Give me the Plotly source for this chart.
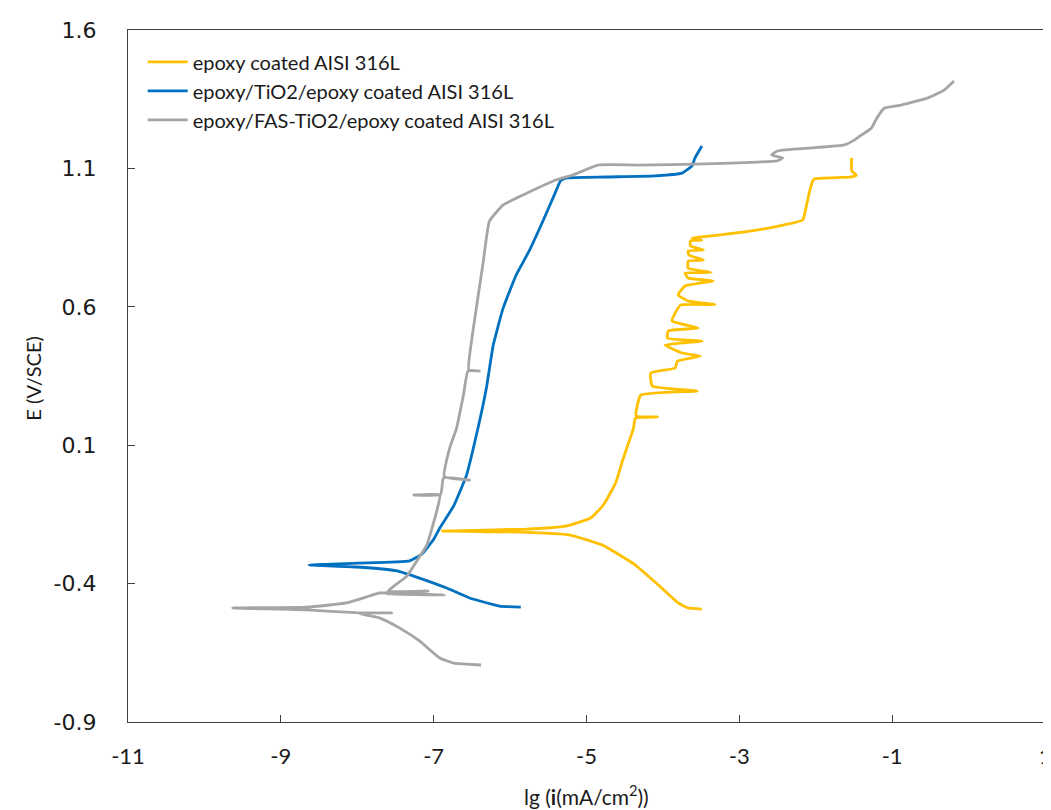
import plotly.graph_objects as go

# ---- data (lg i in mA/cm2, E in V/SCE), each path: cathodic end -> Ecorr tip -> anodic end
series_names = ["epoxy coated AISI 316L",
                "epoxy/TiO2/epoxy coated AISI 316L",
                "epoxy/FAS-TiO2/epoxy coated AISI 316L"]
series_colors = ["#FFC000", "#0070C0", "#A5A5A5"]

epoxy_lgi = [-3.49, -3.67, -3.80, -4.06, -4.36, -4.79, -5.23, -5.88, -6.885,
             -5.79, -5.27, -4.945, -4.78, -4.62, -4.53, -4.45, -4.385, -4.36, -4.07, -4.35,
             -4.29, -3.55, -4.14, -4.16, -3.84, -3.81, -3.51, -3.75, -3.97, -3.49, -3.94,
             -3.93, -3.54, -3.88, -3.77, -3.32, -3.67, -3.80, -3.71, -3.34, -3.67, -3.71,
             -3.37, -3.67, -3.67, -3.47, -3.66, -3.67, -3.47, -3.64, -3.64, -3.49, -3.62,
             -3.28, -2.84, -2.41, -2.17, -2.12, -2.08, -2.04, -2.02, -1.53, -1.47, -1.53, -1.53]
epoxy_E = [-0.492, -0.488, -0.470, -0.405, -0.333, -0.261, -0.224, -0.214, -0.210,
           -0.203, -0.192, -0.163, -0.116, -0.037, 0.043, 0.108, 0.162, 0.198, 0.202, 0.206,
           0.281, 0.296, 0.314, 0.361, 0.379, 0.404, 0.422, 0.433, 0.462, 0.476, 0.487,
           0.513, 0.523, 0.549, 0.606, 0.608, 0.621, 0.643, 0.675, 0.693, 0.704, 0.722,
           0.724, 0.740, 0.765, 0.769, 0.787, 0.802, 0.805, 0.820, 0.838, 0.841, 0.849,
           0.859, 0.874, 0.896, 0.914, 0.968, 1.018, 1.054, 1.062, 1.069, 1.076, 1.091, 1.138]

tio2_lgi = [-5.86, -6.14, -6.53, -6.83, -7.185, -7.48, -8.005, -8.63,
            -8.005, -7.315, -7.15, -7.00, -6.92, -6.74, -6.57, -6.42, -6.31, -6.22, -6.09,
            -5.92, -5.75, -5.57, -5.40, -5.34, -5.27, -4.75, -4.10, -3.75, -3.62, -3.58, -3.49]
tio2_E = [-0.485, -0.481, -0.452, -0.416, -0.380, -0.354, -0.340, -0.333,
          -0.326, -0.318, -0.292, -0.240, -0.199, -0.120, -0.008, 0.162, 0.307, 0.462, 0.596,
          0.715, 0.802, 0.910, 1.018, 1.055, 1.065, 1.069, 1.073, 1.083, 1.109, 1.138, 1.181]

fas_lgi = [-6.38, -6.74, -6.92, -7.185, -7.45, -7.71, -8.00, -7.55, -8.02, -8.66, -9.63,
           -8.66, -8.14, -7.875, -7.71, -6.86, -7.62, -7.07, -7.60, -7.52, -7.35, -7.22,
           -7.09, -6.96, -6.92, -7.26, -6.91, -6.87, -6.53, -6.86, -6.79, -6.70, -6.61,
           -6.55, -6.40, -6.54, -6.48, -6.35, -6.31, -6.27, -6.09, -5.83, -5.40, -5.18,
           -4.85, -4.32, -3.45, -2.76, -2.51, -2.43, -2.58, -2.50, -2.05, -1.625, -1.49,
           -1.40, -1.27, -1.20, -1.10, -0.88, -0.54, -0.32, -0.19]
fas_E = [-0.694, -0.687, -0.669, -0.607, -0.560, -0.524, -0.507, -0.506, -0.505, -0.495, -0.488,
         -0.485, -0.470, -0.448, -0.434, -0.441, -0.437, -0.427, -0.428, -0.409, -0.373, -0.318,
         -0.261, -0.138, -0.080, -0.080, -0.078, -0.018, -0.026, -0.014, 0.090, 0.162, 0.281,
         0.368, 0.368, 0.372, 0.523, 0.765, 0.849, 0.910, 0.968, 1.004, 1.058, 1.076,
         1.112, 1.112, 1.116, 1.123, 1.127, 1.138, 1.148, 1.163, 1.174, 1.185, 1.203,
         1.221, 1.246, 1.282, 1.318, 1.329, 1.354, 1.383, 1.416]

x_ticks = [-11, -9, -7, -5, -3, -1, 1]
y_ticks = [-0.9, -0.4, 0.1, 0.6, 1.1, 1.6]
x_title = "lg (<b>i</b>(mA/cm<sup>2</sup>))"
y_title = "E (V/SCE)"

fig = go.Figure()
for name, color, xs, ys in zip(series_names, series_colors,
                               [epoxy_lgi, tio2_lgi, fas_lgi],
                               [epoxy_E, tio2_E, fas_E]):
    fig.add_trace(go.Scatter(x=xs, y=ys, mode="lines", name=name,
                             line=dict(color=color, width=2.8, shape="spline", smoothing=0.4)))

axis_line = "#404040"
text_col = "#1a1a1a"
fig.update_layout(
    width=1051, height=810,
    margin=dict(l=120, r=14, t=22, b=96),
    paper_bgcolor="white", plot_bgcolor="white",
    showlegend=True,
    legend=dict(x=0.016, y=0.982, xanchor="left", yanchor="top",
                bgcolor="rgba(0,0,0,0)", font=dict(family="Lato", size=20, color=text_col),
                tracegroupgap=0, itemwidth=40),
    xaxis=dict(range=[-11, 1], tickvals=x_ticks, ticktext=[str(v) for v in x_ticks],
               showgrid=False, zeroline=False, showline=True, mirror=True, automargin=False,
               linecolor=axis_line, linewidth=1.3, ticks="inside", ticklen=7,
               tickcolor=axis_line, ticklabelstandoff=14,
               tickfont=dict(family="Lato", size=22, color=text_col)),
    yaxis=dict(range=[-0.9, 1.6], tickvals=y_ticks,
               ticktext=["-0.9", "-0.4", "0.1", "0.6", "1.1", "1.6"],
               showgrid=False, zeroline=False, showline=True, mirror=True, automargin=False,
               linecolor=axis_line, linewidth=1.3, ticks="inside", ticklen=7,
               tickcolor=axis_line, ticklabelstandoff=26,
               tickfont=dict(family="DejaVu Sans", size=22, color=text_col)),
    annotations=[
        dict(text=x_title, xref="paper", yref="paper", x=0.5, y=-0.106,
             xanchor="center", yanchor="middle", showarrow=False,
             font=dict(family="Lato", size=21, color=text_col)),
        dict(text=y_title, xref="paper", yref="paper", x=-0.104, y=0.497,
             xanchor="center", yanchor="middle", showarrow=False, textangle=-90,
             font=dict(family="Lato", size=20, color=text_col)),
    ],
)

fig.write_html("out.html")
